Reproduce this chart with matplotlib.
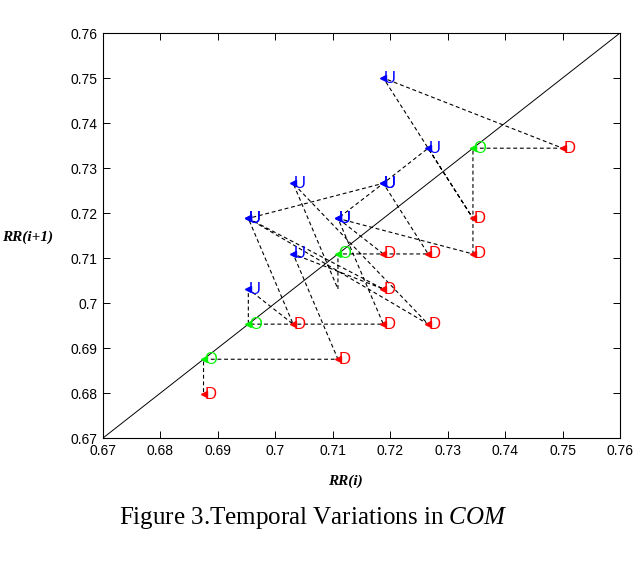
import matplotlib
matplotlib.use("Agg")
import matplotlib.pyplot as plt
import numpy as np

# RR interval sequence (s) (values quantised to 1/128 s)
rr = [0.7188, 0.7109, 0.7188, 0.7266, 0.7109, 0.7109, 0.7031, 0.7266, 0.6953,
      0.7188, 0.7266, 0.7344, 0.7188, 0.7500, 0.7344, 0.7344, 0.7109, 0.7188,
      0.6953, 0.6953, 0.7031, 0.6953, 0.7188, 0.7031, 0.7109, 0.6875, 0.6875,
      0.6797]
unlabeled = [5]  # point drawn without a letter in the reference

ticks = [0.67, 0.68, 0.69, 0.70, 0.71, 0.72, 0.73, 0.74, 0.75, 0.76]
tick_labels = ["0.67", "0.68", "0.69", "0.7", "0.71", "0.72", "0.73", "0.74", "0.75", "0.76"]

x = np.array(rr[:-1])
y = np.array(rr[1:])

plt.rcParams['mathtext.fontset'] = 'custom'
plt.rcParams['mathtext.rm'] = 'Liberation Serif'
plt.rcParams['mathtext.it'] = 'Liberation Serif:italic'

fig = plt.figure(figsize=(6.37, 5.69), dpi=100)
ax = fig.add_axes([103/637, 1-438/569, 517/637, 405/569])

lim = (ticks[0], ticks[-1])
ax.plot(lim, lim, color='black', lw=0.7, zorder=1)
ax.plot(x, y, color='black', lw=0.8, ls=(0, (3.5, 2.5)), zorder=2)

for i, (xi, yi) in enumerate(zip(x, y)):
    if i in unlabeled:
        continue
    if abs(yi - xi) < 1e-6:
        lab, col = 'O', (0, 0.95, 0)
    elif yi > xi:
        lab, col = 'U', (0, 0, 1)
    else:
        lab, col = 'D', (1, 0, 0)
    ax.plot([xi], [yi], marker='<', ms=4, color=col, mec=col, zorder=3)
    ax.annotate(lab, (xi, yi), xytext=(0.5, 0), textcoords='offset points',
                ha='left', va='center', color=col, fontsize=12,
                family='Liberation Sans', zorder=4)

ax.set_xlim(lim)
ax.set_ylim(lim)
ax.set_xticks(ticks)
ax.set_yticks(ticks)
ax.set_xticklabels(tick_labels)
ax.set_yticklabels(tick_labels)
ax.tick_params(direction='in', length=5, width=0.7, top=True, right=True,
               labelsize=10, pad=4)
for lbl in ax.get_xticklabels() + ax.get_yticklabels():
    lbl.set_family('Liberation Sans')
for s in ax.spines.values():
    s.set_linewidth(0.8)

fig.text(345/637, 1-481/569, "RR(i)", ha='center', va='center',
         family='Liberation Serif', style='italic', weight='bold', fontsize=11)
fig.text(2/637, 1-237/569, "RR(i+1)", ha='left', va='center',
         family='Liberation Serif', style='italic', weight='bold', fontsize=11)
fig.text(313/637, 1-518/569, r"Figure 3.Temporal Variations in $\mathit{COM}$",
         ha='center', va='center', family='Liberation Serif', fontsize=18)

fig.savefig("out.png", dpi=100)
